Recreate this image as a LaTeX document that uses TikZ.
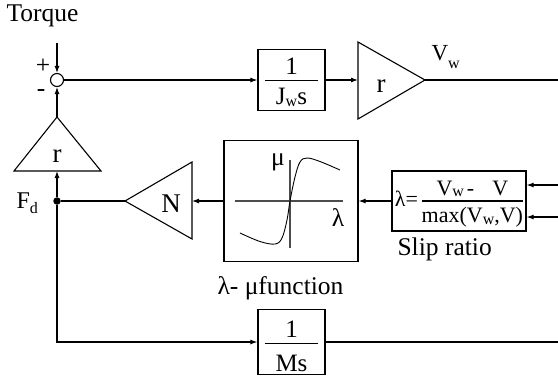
\documentclass[tikz,border=0pt]{standalone}
\usepackage{fontspec}
\setmainfont{Liberation Serif}
\usetikzlibrary{arrows.meta}
\setlength{\arrayrulewidth}{1.1pt}
\newcommand{\dn}[2][1.5pt]{\raisebox{-#1}{\fontsize{16}{16}\selectfont #2}}

\tikzset{
  blk/.style={draw, line width=1.2pt, inner sep=0pt, font=\fontsize{25}{8}\selectfont},
  lbl/.style={inner sep=0pt},
  gain/.style={line width=1.1pt, line join=miter},
  big/.style={font=\fontsize{27}{30}\selectfont},
}

\begin{document}
\begin{tikzpicture}[x=1pt, y=-1pt, line width=1.1pt,
  font=\fontsize{25.5}{28}\selectfont, >={Latex[length=7pt,width=5pt]}]

\useasboundingbox (0,0) rectangle (558,376);

% Torque input and sum
\node[lbl, anchor=base west] (torque) at (6,21) {Torque};
\coordinate (tin) at (57,43);
\node[draw, circle, minimum size=13pt, inner sep=0pt] (sum) at (57,80) {};
\draw[->] (tin) -- (sum.north);
\node[lbl] (plus) at (43,66) {+};
\node[lbl] (minus) at (41,93) {-};

% Wheel 1/(J_w s)
\node[blk, minimum width=67pt, minimum height=61pt] (bJ) at (291.5,80)
  {\setlength{\tabcolsep}{11pt}\begin{tabular}{c}\rule[-5.5pt]{0pt}{30.5pt}1\\\hline\rule[-6pt]{0pt}{30pt}J\dn{w}s\end{tabular}};
\draw[->] (sum.east) -- (bJ.west);

% Gain r
\coordinate (rA) at (358,42);
\coordinate (rB) at (358,119);
\coordinate (rC) at (425,80);
\coordinate (rin) at (358,80);
\draw[gain] (rA) -- (rC) -- (rB) -- cycle;
\node[lbl, big, anchor=base] (rtxt) at (381,92) {r};
\coordinate (vout) at (558,80);
\node[lbl, anchor=base west, font=\fontsize{23}{25}\selectfont] (vw) at (431,60) {V\dn[8pt]{w}};
\draw[->] (bJ.east) -- (rin);
\draw (rC) -- (vout);

% Gain r (feedback)
\coordinate (fA) at (14,171);
\coordinate (fB) at (101,171);
\coordinate (fC) at (57,117);
\coordinate (fin) at (57,171);
\draw[gain] (fA) -- (fC) -- (fB) -- cycle;
\node[lbl, big, anchor=base] (ftxt) at (57,162) {r};
\draw[->] (fC) -- (sum.south);

% F_d
\node[circle, fill, minimum size=7.5pt, inner sep=0pt] (fd) at (57,201) {};
\node[lbl, anchor=base west, font=\fontsize{24}{27}\selectfont] (fdtxt) at (16,208) {F\dn[5pt]{d}};
\draw[->] (fd) -- (fin);

% Gain N
\coordinate (nA) at (192,162);
\coordinate (nB) at (192,239);
\coordinate (nC) at (125,201);
\coordinate (nin) at (192,201);
\draw[gain] (nA) -- (nC) -- (nB) -- cycle;
\node[lbl, big, anchor=base] (ntxt) at (171,212) {N};
\draw (fd) -- (nC);

% lambda-mu function
\node[blk, minimum width=134pt, minimum height=121pt] (mu) at (291,201) {};
\draw[gray!60!black, line width=1.3pt] (235,201) -- (343,201);
\draw[gray!60!black, line width=1.3pt] (290,160) -- (290,248);
\draw[line width=0.9pt] plot[smooth, tension=0.6] coordinates {(240,233) (260,241.5) (275,244) (282,238) (287,220) (290,201) (295,177) (300,162) (307,158) (320,161.5) (340,170)};
\node[lbl] (mulbl) at (278,162) {μ};
\node[lbl] (lalbl) at (338,218) {λ};
\node[lbl, anchor=base west] (mucap) at (217,294) {λ- μfunction};
\draw[->] (mu.west) -- (nin);

% Slip ratio
\node[blk, minimum width=134pt, minimum height=60pt, font=\fontsize{22}{8}\selectfont] (slip) at (459,201)
  {λ=\,\setlength{\tabcolsep}{0pt}\begin{tabular}{c}\rule[-5pt]{0pt}{26pt}V\dn{w}\hspace{3pt}-\hspace{18pt}V\\\hline\rule[-5pt]{0pt}{26pt}max(V\dn{w},V)\end{tabular}};
\node[lbl, anchor=base west] (sliptxt) at (397,255) {Slip ratio};
\coordinate (sin1) at (558,185);
\coordinate (sin2) at (558,217);
\draw[->] (sin1) -- (sin1 -| slip.east);
\draw[->] (sin2) -- (sin2 -| slip.east);
\draw[->] (slip.west) -- (mu.east);

% Vehicle 1/(M s)
\node[blk, minimum width=67pt, minimum height=64pt] (bM) at (291.5,342)
  {\setlength{\tabcolsep}{11pt}\begin{tabular}{c}\rule[-5pt]{0pt}{33pt}1\\\hline\rule[-2pt]{0pt}{30pt}Ms\end{tabular}};
\coordinate (mout) at (558,342);
\draw[->] (fd) |- (bM.west);
\draw (bM.east) -- (mout);

\end{tikzpicture}
\end{document}
